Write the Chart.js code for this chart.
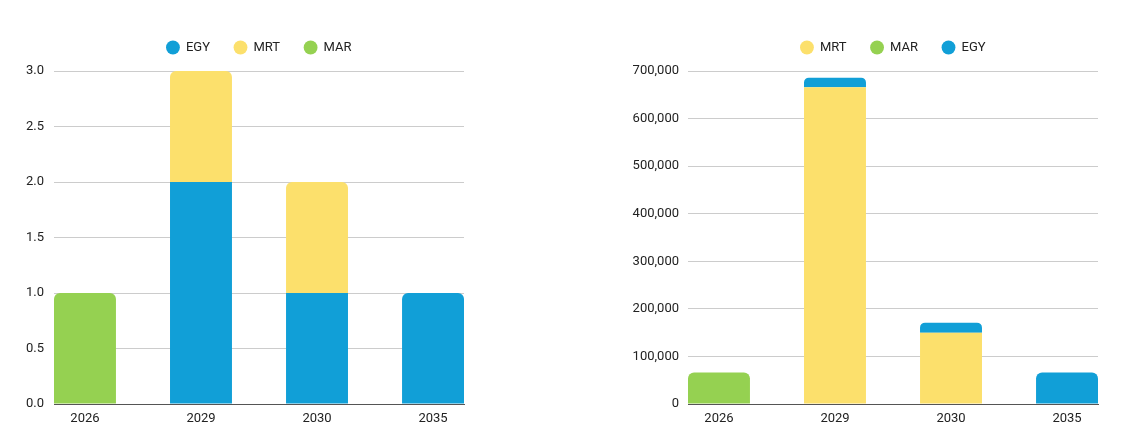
<!DOCTYPE html>
<html>
<head>
<meta charset="utf-8">
<script src="https://cdn.jsdelivr.net/npm/chart.js@4/dist/chart.umd.min.js"></script>
<style>
  body { margin: 0; background: #fff; }
  .box { position: absolute; top: 0; height: 438px; }
  #left { left: 0; width: 480px; }
  #right { left: 600px; width: 525px; }
</style>
</head>
<body>
<div class="box" id="left"><canvas id="countChart"></canvas></div>
<div class="box" id="right"><canvas id="volumeChart"></canvas></div>
<script>
const years = ['2026', '2029', '2030', '2035'];

// left chart: number of items per year
const countEGY = [null, 2, 1, 1];
const countMRT = [null, 1, 1, null];
const countMAR = [1, null, null, null];

// right chart: volume per year
const volMRT = [null, 666000, 150000, null];
const volMAR = [66000, null, null, null];
const volEGY = [null, 20000, 21000, 66000];

const colors = { EGY: '#119fd7', MRT: '#fce06c', MAR: '#95d151' };

Chart.defaults.font.family = 'Roboto';
Chart.defaults.font.size = 13;
Chart.defaults.color = '#222';

function points(values) {
  return values.map((v, i) => ({ x: i, y: v }));
}

function makeChart(canvas, series, yOpts, axisWidth, padRight) {
  // which dataset is on top of each stack, only that one gets round corners
  const topIdx = years.map((_, i) => {
    let top = -1;
    series.forEach((s, d) => { if (s.values[i] != null) top = d; });
    return top;
  });

  const datasets = series.map((s) => ({
    label: s.name,
    data: points(s.values),
    backgroundColor: colors[s.name],
    borderRadius: (ctx) => ctx.datasetIndex === topIdx[ctx.dataIndex]
      ? { topLeft: 6, topRight: 6, bottomLeft: 0, bottomRight: 0 } : 0,
    categoryPercentage: 1,
    barPercentage: 0.534
  }));

  const chart = new Chart(canvas, {
    type: 'bar',
    data: { datasets: datasets },
    options: {
      responsive: true,
      maintainAspectRatio: false,
      animation: false,
      layout: { padding: { top: 17, right: padRight, bottom: 0, left: 0 } },
      plugins: {
        tooltip: { enabled: false },
        legend: {
          fullSize: false,
          labels: {
            usePointStyle: true, pointStyle: 'circle',
            boxWidth: 13, boxHeight: 9.8, padding: 24,
            font: { size: 13 }
          }
        }
      },
      scales: {
        x: {
          type: 'linear',
          stacked: true,
          offset: false,
          min: -0.267,
          max: 3.267,
          grid: { display: false, drawTicks: false },
          border: { display: true, color: '#555' },
          ticks: {
            stepSize: 1,
            includeBounds: false,
            padding: 7,
            callback: (v) => years[v]
          },
          afterFit: (s) => { s.height = 34; }
        },
        y: Object.assign({
          stacked: true,
          min: 0,
          grid: { color: '#cccccc', drawTicks: false },
          border: { display: false },
          afterFit: (s) => { s.width = axisWidth; }
        }, yOpts)
      }
    }
  });
  // a bit more room between legend and plot
  const fit = chart.legend.fit;
  chart.legend.fit = function () { fit.call(this); this.height += 7; };
  chart.update();
  return chart;
}

makeChart(document.getElementById('countChart'), [
  { name: 'EGY', values: countEGY },
  { name: 'MRT', values: countMRT },
  { name: 'MAR', values: countMAR }
], {
  max: 3,
  ticks: { stepSize: 0.5, padding: 10, callback: (v) => v.toFixed(1) }
}, 54, 16);

makeChart(document.getElementById('volumeChart'), [
  { name: 'MRT', values: volMRT },
  { name: 'MAR', values: volMAR },
  { name: 'EGY', values: volEGY }
], {
  max: 700000,
  ticks: { stepSize: 100000, padding: 9, callback: (v) => v.toLocaleString('en-US') }
}, 88, 27);
</script>
</body>
</html>
